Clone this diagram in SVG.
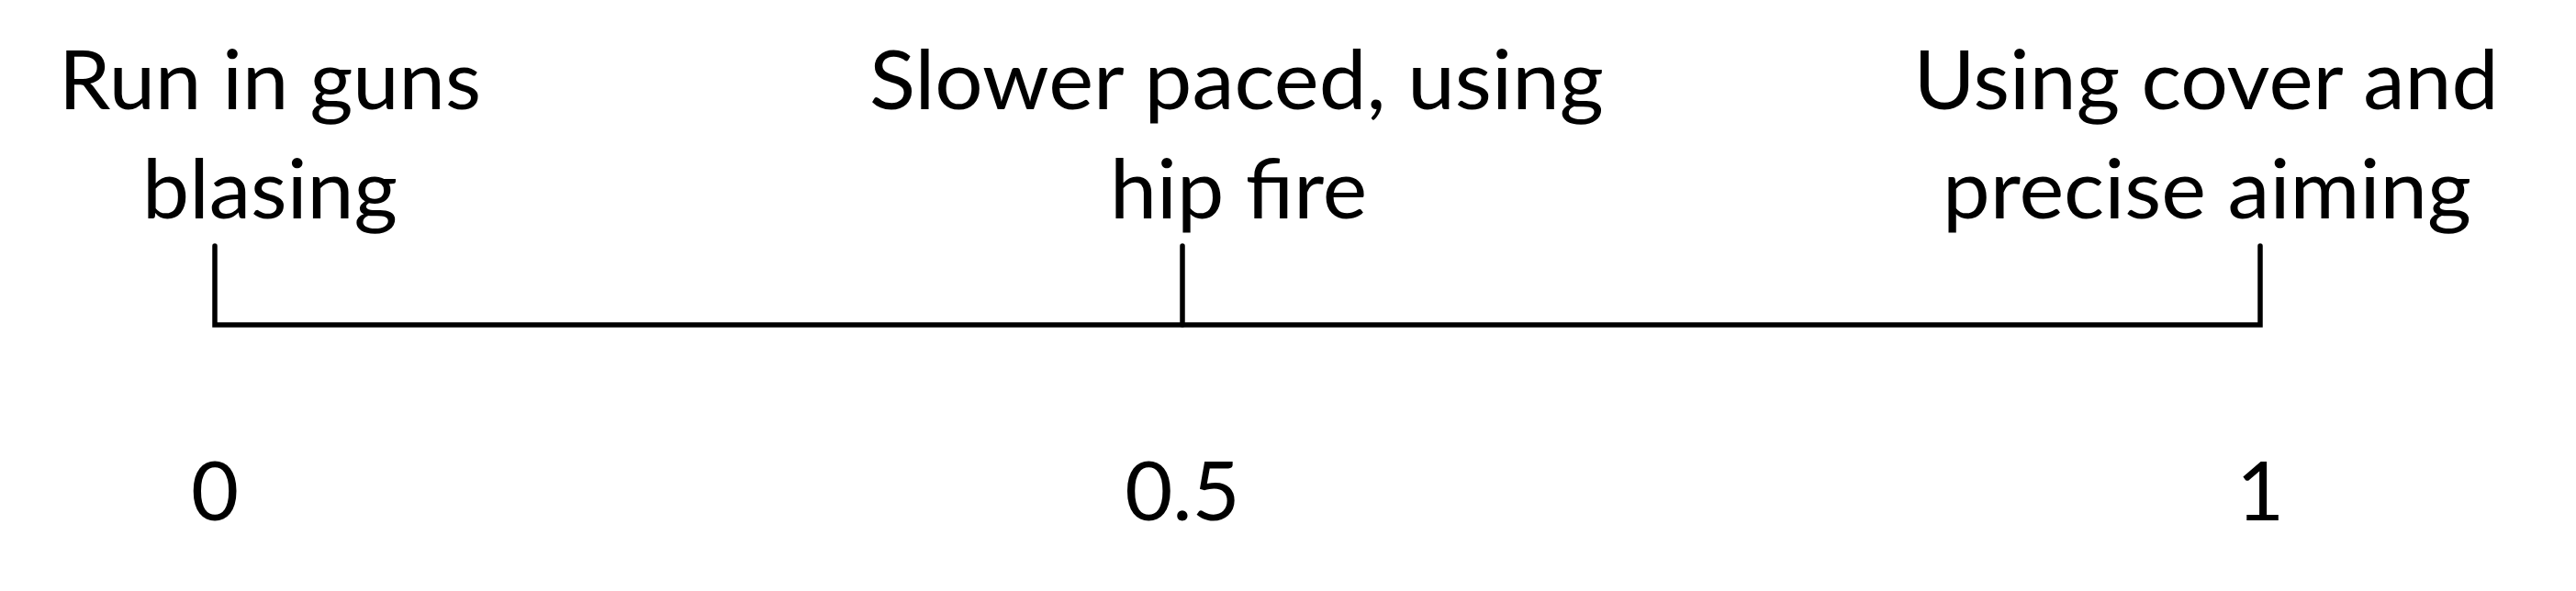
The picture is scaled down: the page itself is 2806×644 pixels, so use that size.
<svg xmlns="http://www.w3.org/2000/svg" width="2806" height="644" viewBox="0 0 2806 644">
<style>
.lbl{font-family:Lato,"Open Sans","Liberation Sans",sans-serif;font-size:90px;fill:#000;text-anchor:middle}
.ln{fill:none;stroke:#000;stroke-width:5.5;stroke-linecap:round;stroke-linejoin:miter}
</style>
<rect width="2806" height="644" fill="#fff"/>
<g id="connectors">
<path class="ln" d="M234,268 V354 H2462 V268"/>
<path class="ln" d="M1288,268 V354"/>
</g>
<g id="node-left">
<text class="lbl" x="294" y="119" textLength="460" lengthAdjust="spacingAndGlyphs">Run in guns</text>
<text class="lbl" x="294" y="238" textLength="278" lengthAdjust="spacingAndGlyphs">blasing</text>
</g>
<g id="node-middle">
<text class="lbl" x="1347" y="119" textLength="800" lengthAdjust="spacingAndGlyphs">Slower paced, using</text>
<text class="lbl" x="1349" y="238" textLength="280" lengthAdjust="spacingAndGlyphs">hip fire</text>
</g>
<g id="node-right">
<text class="lbl" x="2403" y="119" textLength="637" lengthAdjust="spacingAndGlyphs">Using cover and</text>
<text class="lbl" x="2404" y="238" textLength="576" lengthAdjust="spacingAndGlyphs">precise aiming</text>
</g>
<g id="scale-0"><text class="lbl" x="234" y="567">0</text></g>
<g id="scale-05"><text class="lbl" x="1288" y="567">0.5</text></g>
<g id="scale-1"><text class="lbl" x="2462" y="567">1</text></g>
</svg>
